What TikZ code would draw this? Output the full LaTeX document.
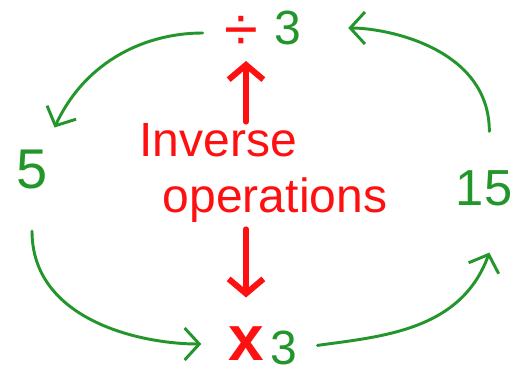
\documentclass[tikz,border=0pt]{standalone}
\usepackage{fontspec}
\setmainfont{Liberation Sans}
\usepackage{tikz}
\usetikzlibrary{arrows.meta,positioning}
\definecolor{handgreen}{HTML}{22962A}
\definecolor{handred}{HTML}{FF1010}
\begin{document}
\begin{tikzpicture}[
  x=0.75pt,y=0.75pt,
  num/.style={text=handgreen,font=\fontsize{36}{36}\selectfont,inner sep=1pt},
  op/.style={text=handred,font=\fontsize{46}{46}\selectfont,inner sep=0pt},
  word/.style={text=handred,font=\fontsize{36}{36}\selectfont,inner sep=1pt},
  garr/.style={-{Straight Barb[length=11pt,width=24pt]},line width=2.2pt,handgreen,line cap=round},
  rarr/.style={-{Straight Barb[length=11pt,width=26pt]},line width=4.5pt,handred,line cap=round}
]
\useasboundingbox (0,0) rectangle (516,376);
% the four corners of the cycle
\node[op] (divsign) at (241,343) {÷};
\node[num] (divnum) at (288,348) {3};
\node[num,font=\fontsize{42}{42}\selectfont] (five) at (32,206) {5};
\node[num,font=\fontsize{38}{38}\selectfont] (fifteen) at (484,188) {15};
\node[op,font=\fontsize{48}{48}\selectfont\bfseries] (timessign) at (246,32) {x};
\node[num] (timesnum) at (284,28) {3};
% label in the middle
\node[word] (inv) at (218,236) {Inverse};
\node[word] (opers) at (275,176) {operations};
\draw[rarr,shorten >=8pt] (246,256 |- inv.north) -- (246,256 |- divsign.south);
\draw[rarr,shorten <=4pt,shorten >=22pt] (246,138 |- opers.south) -- (246,138 |- timessign.north);
% green cycle
\draw[garr,shorten <=16pt] (divsign.west) to[out=180,in=65] ([xshift=4pt,yshift=16pt]five.north east);
\draw[garr,shorten >=20pt] ([yshift=-30pt]five.south) to[out=-90,in=180] (timessign.west);
\draw[garr,shorten <=14pt] (timesnum.east) to[out=8,in=-110] ([xshift=4pt,yshift=-34pt]fifteen.south);
\draw[garr,shorten >=34pt] ([xshift=4pt,yshift=28pt]fifteen.north) to[out=90,in=0] (divnum.east);
\end{tikzpicture}
\end{document}
